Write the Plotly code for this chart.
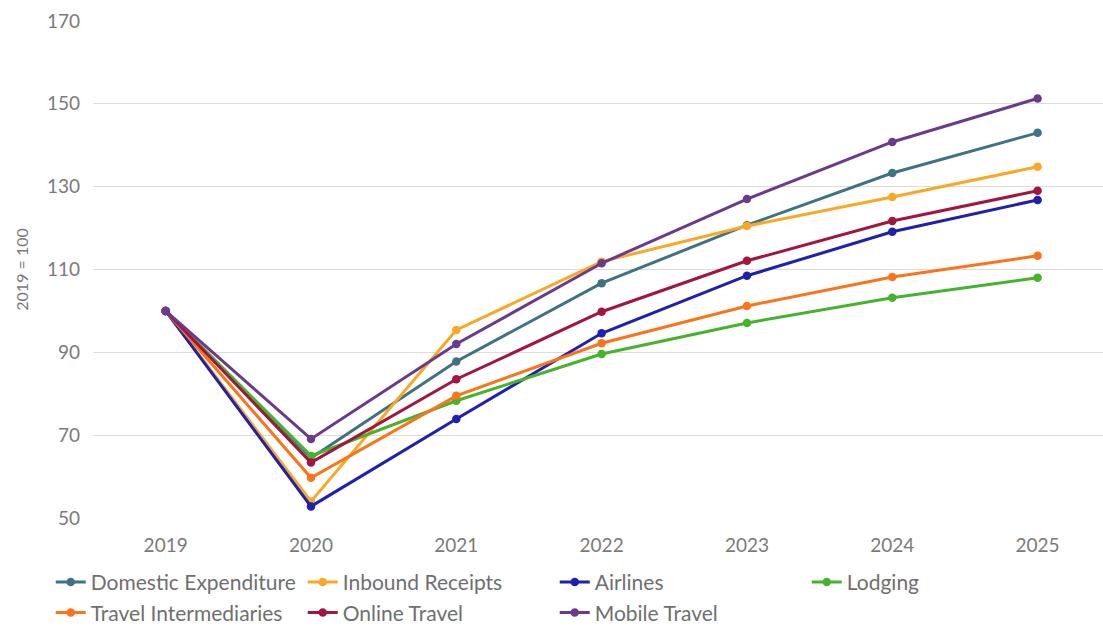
import plotly.graph_objects as go

years = ["2019", "2020", "2021", "2022", "2023", "2024", "2025"]

domestic_expenditure = [100, 64.5, 87.8, 106.7, 120.7, 133.3, 143.0]
inbound_receipts = [100, 54.0, 95.4, 111.9, 120.5, 127.5, 134.8]
airlines = [100, 52.8, 73.9, 94.6, 108.5, 119.1, 126.8]
lodging = [100, 65.0, 78.3, 89.6, 97.1, 103.2, 108.0]
travel_intermediaries = [100, 59.7, 79.5, 92.2, 101.2, 108.2, 113.3]
online_travel = [100, 63.4, 83.5, 99.8, 112.1, 121.7, 129.0]
mobile_travel = [100, 69.1, 92.0, 111.5, 127.0, 140.8, 151.3]

series = [
    ("Domestic Expenditure", domestic_expenditure, "#3f7384"),
    ("Inbound Receipts", inbound_receipts, "#f9a825"),
    ("Airlines", airlines, "#1f1fb0"),
    ("Lodging", lodging, "#46b32c"),
    ("Travel Intermediaries", travel_intermediaries, "#fb7419"),
    ("Online Travel", online_travel, "#a3143f"),
    ("Mobile Travel", mobile_travel, "#6a3a8c"),
]

y_ticks = [50, 70, 90, 110, 130, 150, 170]

FONT = "Lato"
fig = go.Figure()
for name, vals, color in series:
    fig.add_trace(go.Scatter(
        x=years, y=vals, name=name, mode="lines+markers",
        line=dict(color=color, width=3),
        marker=dict(color=color, size=8.5),
    ))

fig.update_layout(
    width=1103, height=630,
    margin=dict(l=93, r=0, t=21, b=112, autoexpand=False),
    paper_bgcolor="white", plot_bgcolor="white",
    font=dict(family=FONT, color="#7a7a7a"),
    showlegend=True,
    legend=dict(
        orientation="h", xref="container", yref="container",
        x=0.046, y=0.108, xanchor="left", yanchor="top",
        font=dict(size=21, color="#6f6f6f", family=FONT),
        itemwidth=30, entrywidth=207, entrywidthmode="pixels",
        traceorder="normal", bgcolor="rgba(0,0,0,0)",
    ),
    xaxis=dict(
        type="category", range=[-0.5, 6.45],
        showgrid=False, zeroline=False, showline=False,
        tickfont=dict(size=19, color="#7a7a7a"),
        ticklabelstandoff=14,
    ),
    yaxis=dict(
        range=[50, 170], tickvals=y_ticks,
        showgrid=True, gridcolor="#dcdcdc", gridwidth=1,
        zeroline=False, showline=False,
        tickfont=dict(size=19, color="#7a7a7a"),
        ticklabelstandoff=12,
        title=dict(text="2019 = 100", font=dict(size=16, color="#7a7a7a"), standoff=14),
    ),
)

fig.write_html("out.html")
